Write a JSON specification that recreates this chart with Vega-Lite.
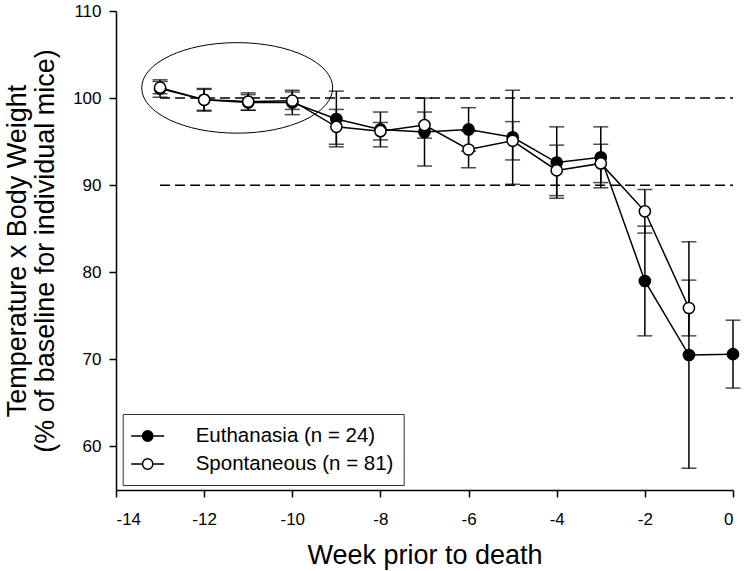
{
  "$schema": "https://vega.github.io/schema/vega-lite/v6.json",
  "width": 617,
  "height": 479,
  "autosize": {"type": "none"},
  "padding": {"left": 116, "top": 11, "right": 12, "bottom": 81},
  "background": "white",
  "config": {
    "view": {"stroke": null},
    "font": "Liberation Sans",
    "axis": {"grid": false, "domainColor": "black", "domainWidth": 1.5, "tickColor": "black", "tickWidth": 1.5, "tickSize": 7, "labelColor": "black", "titleColor": "black", "labelFont": "Liberation Sans", "titleFont": "Liberation Sans", "titleFontWeight": "normal"}
  },
  "datasets": {
    "series": [
      {"series": "Euthanasia (n = 24)", "week": -13, "value": 101.1, "err": 1.0},
      {"series": "Euthanasia (n = 24)", "week": -12, "value": 99.8, "err": 1.3},
      {"series": "Euthanasia (n = 24)", "week": -11, "value": 99.5, "err": 0.9},
      {"series": "Euthanasia (n = 24)", "week": -10, "value": 99.5, "err": 1.4},
      {"series": "Euthanasia (n = 24)", "week": -9, "value": 97.6, "err": 3.2},
      {"series": "Euthanasia (n = 24)", "week": -8, "value": 96.4, "err": 2.0},
      {"series": "Euthanasia (n = 24)", "week": -7, "value": 96.1, "err": 3.9},
      {"series": "Euthanasia (n = 24)", "week": -6, "value": 96.4, "err": 2.5},
      {"series": "Euthanasia (n = 24)", "week": -5, "value": 95.5, "err": 5.4},
      {"series": "Euthanasia (n = 24)", "week": -4, "value": 92.6, "err": 4.1},
      {"series": "Euthanasia (n = 24)", "week": -3, "value": 93.2, "err": 3.5},
      {"series": "Euthanasia (n = 24)", "week": -2, "value": 79.0, "err": 6.3},
      {"series": "Euthanasia (n = 24)", "week": -1, "value": 70.5, "err": 13.0},
      {"series": "Euthanasia (n = 24)", "week": 0, "value": 70.6, "err": 3.9},
      {"series": "Spontaneous (n = 81)", "week": -13, "value": 101.2, "err": 0.7},
      {"series": "Spontaneous (n = 81)", "week": -12, "value": 99.8, "err": 1.2},
      {"series": "Spontaneous (n = 81)", "week": -11, "value": 99.6, "err": 1.0},
      {"series": "Spontaneous (n = 81)", "week": -10, "value": 99.7, "err": 1.0},
      {"series": "Spontaneous (n = 81)", "week": -9, "value": 96.7, "err": 2.0},
      {"series": "Spontaneous (n = 81)", "week": -8, "value": 96.2, "err": 1.0},
      {"series": "Spontaneous (n = 81)", "week": -7, "value": 96.9, "err": 1.5},
      {"series": "Spontaneous (n = 81)", "week": -6, "value": 94.1, "err": 2.1},
      {"series": "Spontaneous (n = 81)", "week": -5, "value": 95.1, "err": 2.2},
      {"series": "Spontaneous (n = 81)", "week": -4, "value": 91.7, "err": 2.9},
      {"series": "Spontaneous (n = 81)", "week": -3, "value": 92.5, "err": 2.2},
      {"series": "Spontaneous (n = 81)", "week": -2, "value": 87.0, "err": 2.5},
      {"series": "Spontaneous (n = 81)", "week": -1, "value": 75.9, "err": 3.2}
    ],
    "refs": [
      {"week": -13, "week2": 0, "value": 100},
      {"week": -13, "week2": 0, "value": 90}
    ],
    "ellipse": [
      {"week": -11.25, "value": 101.17}
    ]
  },
  "encoding": {
    "x": {
      "field": "week", "type": "quantitative",
      "scale": {"domain": [-14, 0], "nice": false, "zero": false},
      "axis": {"title": "Week prior to death", "values": [-14, -12, -10, -8, -6, -4, -2, 0], "labelExpr": "'' + datum.value", "labelFontSize": 17, "labelPadding": 14, "titleFontSize": 27, "titleBaseline": "alphabetic", "titleX": 308.5, "titleY": 73}
    },
    "y": {
      "field": "value", "type": "quantitative",
      "scale": {"domain": [55, 110], "nice": false, "zero": false},
      "axis": {"title": ["Temperature x Body Weight", "(% of baseline for individual mice)"], "values": [60, 70, 80, 90, 100, 110], "labelExpr": "'' + datum.value", "labelFontSize": 17, "labelPadding": 8, "titleFontSize": 27, "titleLineHeight": 28.5, "titleAngle": -90, "titleBaseline": "alphabetic", "titleAlign": "center", "titleX": -91, "titleY": 239.5}
    }
  },
  "layer": [
    {
      "data": {"name": "refs"},
      "mark": {"type": "rule", "color": "black", "strokeWidth": 1.5, "strokeDash": [10, 5]},
      "encoding": {"x2": {"field": "week2"}}
    },
    {
      "data": {"name": "ellipse"},
      "mark": {"type": "point", "shape": "M-1,0A1,0.474,0,1,0,1,0A1,0.474,0,1,0,-1,0Z", "size": 36481, "filled": false, "stroke": "black", "strokeWidth": 1, "opacity": 1}
    },
    {
      "data": {"name": "series"},
      "mark": {"type": "errorbar", "color": "black", "thickness": 1.5, "ticks": {"size": 15, "thickness": 1.5, "color": "black"}, "rule": {"strokeWidth": 1.5, "color": "black"}},
      "encoding": {"yError": {"field": "err"}}
    },
    {
      "data": {"name": "series"},
      "mark": {"type": "line", "color": "black", "strokeWidth": 1.5},
      "encoding": {"detail": {"field": "series"}}
    },
    {
      "data": {"name": "series"},
      "mark": {"type": "point", "shape": "circle", "filled": true, "size": 125, "stroke": "black", "strokeWidth": 1.5, "opacity": 1},
      "encoding": {
        "fill": {
          "field": "series", "type": "nominal",
          "scale": {"domain": ["Euthanasia (n = 24)", "Spontaneous (n = 81)"], "range": ["black", "white"]},
          "legend": {
            "title": null, "orient": "none", "legendX": 6.7, "legendY": 403,
            "symbolType": "M-1.5,0H-0.47M0.47,0H1.5M-0.47,0A0.47,0.47,0,1,1,0.47,0A0.47,0.47,0,1,1,-0.47,0Z",
            "symbolSize": 484, "symbolOffset": 3, "symbolStrokeColor": "black", "symbolStrokeWidth": 1.5,
            "labelFontSize": 20.5, "labelFont": "Liberation Sans", "labelColor": "black", "labelOffset": 36, "labelLimit": 500,
            "padding": 10, "rowPadding": 5, "strokeColor": "#333", "fillColor": "white",
            "encode": {
              "symbols": {"update": {"stroke": {"value": "black"}, "strokeWidth": {"value": 1.5}, "opacity": {"value": 1}}},
              "legend": {"update": {"strokeWidth": {"value": 1.5}}}
            }
          }
        }
      }
    }
  ]
}
